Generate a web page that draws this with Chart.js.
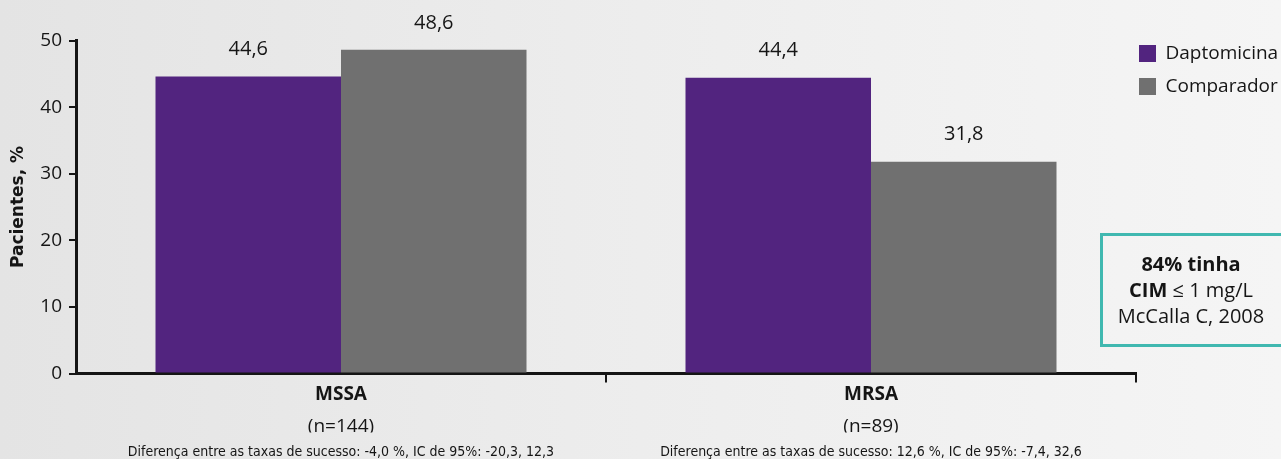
<!DOCTYPE html>
<html>
<head>
<meta charset="utf-8">
<script src="https://cdn.jsdelivr.net/npm/chart.js@4"></script>
<style>
  html, body { margin: 0; padding: 0; overflow: hidden; }
  body { width: 1281px; height: 459px; background: linear-gradient(90deg, #e4e4e4 0%, #ededed 50%, #f5f5f5 100%); position: relative; font-family: 'Open Sans', sans-serif; }
  #wrap { position: absolute; left: 0; top: 0; width: 1281px; height: 459px; }
  .note { position: absolute; left: 1100px; top: 233px; width: 186px; height: 114px; box-sizing: border-box;
          border: 3px solid #40b8b0; padding-right: 4px; display: flex; flex-direction: column;
          justify-content: center; align-items: center; font-size: 20px; line-height: 26px; color: #151515; text-align: center; }
  .note b { font-weight: 700; }
</style>
</head>
<body>
<div id="wrap"><canvas id="chart" width="1281" height="459"></canvas></div>
<div class="note">
  <div><b>84% tinha</b></div>
  <div><b>CIM</b> ≤ 1 mg/L</div>
  <div>McCalla C, 2008</div>
</div>
<script>
// data
const categories = ['MSSA', 'MRSA'];
const sampleSizes = ['(n=144)', '(n=89)'];
const differences = [
  'Diferença entre as taxas de sucesso: -4,0 %, IC de 95%: -20,3, 12,3',
  'Diferença entre as taxas de sucesso: 12,6 %, IC de 95%: -7,4, 32,6'
];
const daptomicina = [44.6, 44.4];
const comparador = [48.6, 31.8];
const seriesNames = ['Daptomicina', 'Comparador'];

const purple = '#52247f';
const grey = '#707070';
const ink = '#151515';

// values written above each bar, with decimal comma
const barValues = {
  id: 'barValues',
  afterDatasetsDraw(chart) {
    const ctx = chart.ctx;
    ctx.save();
    ctx.font = '20px "Open Sans"';
    ctx.fillStyle = ink;
    ctx.textAlign = 'center';
    ctx.textBaseline = 'middle';
    chart.data.datasets.forEach((ds, i) => {
      chart.getDatasetMeta(i).data.forEach((bar, j) => {
        ctx.fillText(ds.data[j].toFixed(1).replace('.', ','), bar.x, bar.y - 27);
      });
    });
    ctx.restore();
  }
};

// legend sits a little closer to the axis end than chart.js puts it
const legendShift = {
  id: 'legendShift',
  afterLayout(chart) {
    const l = chart.legend;
    l.left -= 11;
    l.width += 11;
  }
};

new Chart(document.getElementById('chart'), {
  type: 'bar',
  data: {
    labels: categories,
    datasets: [
      { label: seriesNames[0], data: daptomicina, backgroundColor: purple },
      { label: seriesNames[1], data: comparador, backgroundColor: grey }
    ]
  },
  options: {
    responsive: false,
    animation: false,
    categoryPercentage: 0.7,
    barPercentage: 1,
    layout: { padding: { top: 30, right: 0, bottom: 0, left: 0 } },
    plugins: {
      tooltip: { enabled: false },
      legend: {
        position: 'right',
        align: 'start',
        maxWidth: 145,
        labels: {
          boxWidth: 17, boxHeight: 17, padding: 14, color: ink,
          font: { family: 'Open Sans', size: 19 }
        }
      }
    },
    scales: {
      y: {
        min: 0, max: 50,
        afterFit(s) { s.width = 76; s.paddingTop = 40.5; },
        ticks: { stepSize: 10, padding: 7, color: ink, font: { family: 'Open Sans', size: 19 } },
        grid: { drawOnChartArea: false, tickLength: 7, lineWidth: 2, color: ink },
        border: { width: 3, color: ink },
        title: {
          display: true, text: 'Pacientes, %', color: ink,
          padding: { top: 8, bottom: 0 },
          font: { family: 'DejaVu Sans', size: 17, weight: 'bold' }
        }
      },
      x: {
        weight: 1,
        afterFit(s) { s.height = 31; },
        ticks: { padding: 1, color: ink, font: { family: 'Open Sans', size: 19, weight: 'bold' } },
        grid: {
          offset: true, drawOnChartArea: false, tickLength: 9, lineWidth: 2,
          color: (c) => c.index === 0 ? 'rgba(0,0,0,0)' : ink
        },
        border: { width: 3, color: ink }
      },
      x2: {
        type: 'category', position: 'bottom', weight: 2, offset: true,
        labels: sampleSizes,
        afterFit(s) { s.height = 28; },
        ticks: { padding: 10.5, color: ink, font: { family: 'Open Sans', size: 19 } },
        grid: { display: false, drawTicks: false },
        border: { display: false }
      },
      x3: {
        type: 'category', position: 'bottom', weight: 3, offset: true,
        labels: differences,
        afterFit(s) { s.height = 26.5; },
        ticks: { padding: 11, color: ink, maxRotation: 0, autoSkip: false, font: { family: 'DejaVu Sans Condensed', size: 14 } },
        grid: { display: false, drawTicks: false },
        border: { display: false }
      }
    }
  },
  plugins: [barValues, legendShift]
});
</script>
</body>
</html>
